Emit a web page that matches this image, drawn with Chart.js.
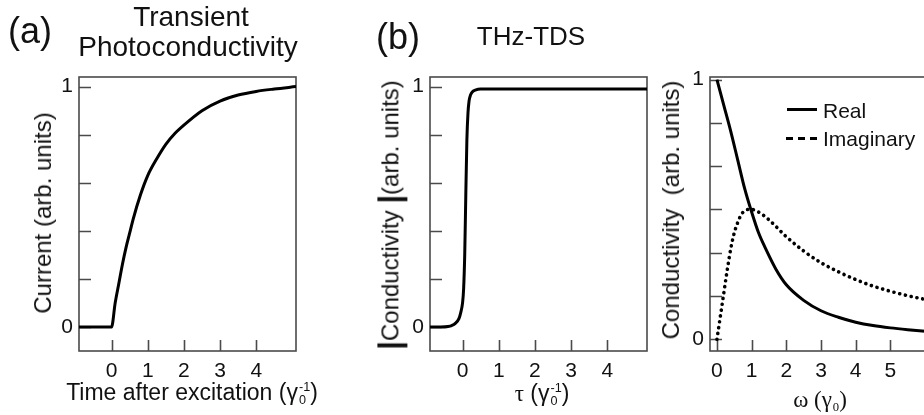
<!DOCTYPE html>
<html>
<head>
<meta charset="utf-8">
<script src="https://cdn.jsdelivr.net/npm/chart.js@4.4.1/dist/chart.umd.min.js"></script>
<style>
  body { margin: 0; width: 924px; height: 415px; overflow: hidden; background: #fff; position: relative;
         font-family: "Liberation Sans", Arial, sans-serif; color: #111; }
  canvas { position: absolute; top: 0; }
  .t { position: absolute; white-space: nowrap; line-height: 1; transform: translate(-50%, -50%); }
  .rot { transform: translate(-50%, -50%) rotate(-90deg); }
  .serif { font-family: "Liberation Serif", "Times New Roman", serif; }
  .ss { display: inline-block; vertical-align: -0.35em; font-size: 0.55em; line-height: 1.05; text-align: left; margin-left: 1px; }
  .ss span { display: block; }
  .bar { font-weight: bold; font-size: 1.3em; vertical-align: -0.08em; }
  .key { position: absolute; height: 3px; }
</style>
</head>
<body>

<canvas id="chartA" width="320" height="415" style="left:0"></canvas>
<canvas id="chartB" width="340" height="415" style="left:320px"></canvas>
<canvas id="chartC" width="300" height="415" style="left:640px"></canvas>

<!-- panel headings -->
<div class="t" style="left:30px;top:31px;font-size:36px">(a)</div>
<div class="t" style="left:191px;top:17px;font-size:28px">Transient</div>
<div class="t" style="left:188px;top:47px;font-size:28px">Photoconductivity</div>
<div class="t" style="left:398px;top:37px;font-size:36px">(b)</div>
<div class="t" style="left:531px;top:36px;font-size:26px">THz-TDS</div>

<!-- axis titles -->
<div class="t rot" style="left:43px;top:213px;font-size:24px">Current (arb. units)</div>
<div class="t" style="left:192px;top:394px;font-size:23px">Time after excitation (γ<span class="ss"><span>-1</span><span>0</span></span>)</div>

<div class="t rot" style="left:390px;top:215px;font-size:24px"><span class="bar">|</span>Conductivity <span class="bar">|</span>(arb. units)</div>
<div class="t" style="left:542px;top:395px;font-size:23px"><span class="serif">τ</span> (γ<span class="ss"><span>-1</span><span>0</span></span>)</div>

<div class="t rot" style="left:671px;top:210px;font-size:24px">Conductivity&nbsp;&nbsp;(arb. units)</div>
<div class="t serif" style="left:820px;top:401px;font-size:23px">ω (γ<span class="ss"><span>&nbsp;</span><span>0</span></span>)</div>

<!-- legend for panel (c) -->
<div class="key" style="left:787px;top:108px;width:30px;background:#000"></div>
<div class="key" style="left:786px;top:137px;width:31px;background:repeating-linear-gradient(to right,#000 0 7px,transparent 7px 12px)"></div>
<div class="t" style="left:823px;top:110px;font-size:21px;transform:translate(0,-50%)">Real</div>
<div class="t" style="left:823px;top:138px;font-size:21px;transform:translate(0,-50%)">Imaginary</div>

<script>
// (a) photocurrent after excitation, time in units of 1/gamma0
const timeA = [-0.9, 0, 0.1, 0.2, 0.3, 0.4, 0.5, 0.6, 0.8, 1.0, 1.25, 1.5, 1.75, 2.0, 2.5, 3.0, 3.5, 4.0, 4.5, 5.1];
const currentA = [0, 0, 0.10, 0.18, 0.26, 0.33, 0.39, 0.45, 0.55, 0.63, 0.70, 0.76, 0.805, 0.84, 0.90, 0.94, 0.965, 0.98, 0.99, 1.0];

// (b) |conductivity| vs pump-probe delay tau
const tauB = [-0.9, -0.6, -0.4, -0.3, -0.2, -0.1, -0.05, 0, 0.03, 0.06, 0.09, 0.12, 0.15, 0.18, 0.22, 0.27, 0.35, 0.5, 0.7, 1.0, 5.1];
const condB = [0, 0, 0.002, 0.006, 0.015, 0.035, 0.06, 0.10, 0.16, 0.30, 0.55, 0.78, 0.89, 0.94, 0.965, 0.978, 0.985, 0.99, 0.99, 0.99, 0.99];

// (c) real and imaginary conductivity vs frequency omega
const omegaReal = [0, 0.2, 0.4, 0.6, 0.8, 1.0, 1.2, 1.4, 1.7, 2.0, 2.5, 3.0, 3.5, 4.0, 4.5, 5.0, 5.5, 6.0, 6.2];
const realC = [1.0, 0.90, 0.80, 0.69, 0.58, 0.49, 0.41, 0.35, 0.27, 0.21, 0.15, 0.11, 0.085, 0.066, 0.053, 0.044, 0.037, 0.031, 0.029];
const omegaImag = [0, 0.1, 0.2, 0.3, 0.4, 0.5, 0.6, 0.7, 0.8, 0.9, 1.0, 1.2, 1.5, 2.0, 2.5, 3.0, 3.5, 4.0, 4.5, 5.0, 5.5, 6.0, 6.2];
const imagC = [0, 0.09, 0.18, 0.27, 0.35, 0.41, 0.45, 0.48, 0.495, 0.5, 0.5, 0.49, 0.46, 0.395, 0.34, 0.295, 0.26, 0.23, 0.205, 0.185, 0.168, 0.154, 0.15];

// tick positions
const timeTicks = [0, 1, 2, 3, 4];
const omegaTicks = [0, 1, 2, 3, 4, 5];
const fifthTicks = [0, 0.2, 0.4, 0.6, 0.8, 1];
const sixthTicks = [0, 1/6, 2/6, 3/6, 4/6, 5/6, 1];

const FONT = '"Liberation Sans", Arial, sans-serif';

function pts(xs, ys) {
    return xs.map((v, i) => ({x: v, y: ys[i]}));
}

// box around the plot area plus short ticks pointing inward
const frameTicks = {
    id: 'frameTicks',
    beforeDatasetsDraw(chart) {
        const {ctx, chartArea: a, scales: {x, y}} = chart;
        ctx.save();
        ctx.strokeStyle = '#4a4a4a';
        ctx.lineWidth = 1.6;
        ctx.strokeRect(a.left, a.top, a.right - a.left, a.bottom - a.top);
        ctx.beginPath();
        x.ticks.forEach(t => {
            const px = Math.round(x.getPixelForValue(t.value)) + 0.5;
            ctx.moveTo(px, a.bottom);
            ctx.lineTo(px, a.bottom - 11);
        });
        y.ticks.forEach(t => {
            const py = Math.round(y.getPixelForValue(t.value)) + 0.5;
            ctx.moveTo(a.left, py);
            ctx.lineTo(a.left + 12, py);
        });
        ctx.stroke();
        ctx.restore();
    }
};

function makePanel(id, cfg) {
    return new Chart(document.getElementById(id), {
        type: 'line',
        data: {datasets: cfg.datasets},
        options: {
            responsive: false,
            animation: false,
            devicePixelRatio: 1,
            layout: {padding: {top: 77, right: cfg.padRight, left: 0, bottom: 0}},
            plugins: {legend: {display: false}, tooltip: {enabled: false}},
            elements: {point: {radius: 0}},
            scales: {
                x: {
                    type: 'linear',
                    min: cfg.xMin,
                    max: cfg.xMax,
                    afterBuildTicks: s => { s.ticks = cfg.xTicks.map(v => ({value: v})); },
                    afterFit: s => { s.height = 64; },
                    grid: {display: false, drawTicks: false},
                    border: {display: false},
                    ticks: {color: '#111', font: {family: FONT, size: 21}, padding: 8, maxRotation: 0, autoSkip: false,
                            callback: v => String(v)}
                },
                y: {
                    type: 'linear',
                    min: cfg.yMin,
                    max: cfg.yMax,
                    afterBuildTicks: s => { s.ticks = cfg.yTicks.map(v => ({value: v})); },
                    afterFit: s => { s.width = cfg.yWidth; },
                    grid: {display: false, drawTicks: false},
                    border: {display: false},
                    ticks: {color: '#111', font: {family: FONT, size: 21}, padding: 6, autoSkip: false,
                            callback: v => (v === 0 || v === 1) ? String(v) : ''}
                }
            }
        },
        plugins: [frameTicks]
    });
}

const solid = {borderColor: '#000', borderWidth: 3, fill: false, cubicInterpolationMode: 'monotone'};

makePanel('chartA', {
    datasets: [Object.assign({data: pts(timeA, currentA)}, solid)],
    xMin: -0.9, xMax: 5.1, yMin: -0.1, yMax: 1.04,
    xTicks: timeTicks, yTicks: fifthTicks, yWidth: 79, padRight: 24
});

makePanel('chartB', {
    datasets: [Object.assign({data: pts(tauB, condB)}, solid)],
    xMin: -0.9, xMax: 5.1, yMin: -0.1, yMax: 1.04,
    xTicks: timeTicks, yTicks: fifthTicks, yWidth: 110, padRight: 13
});

makePanel('chartC', {
    datasets: [
        Object.assign({data: pts(omegaReal, realC), label: 'Real'}, solid),
        {data: pts(omegaImag, imagC), label: 'Imaginary', borderColor: '#000', borderWidth: 3.6, fill: false,
         borderDash: [0.1, 5.8], borderCapStyle: 'round', cubicInterpolationMode: 'monotone'}
    ],
    xMin: -0.2, xMax: 6.2, yMin: -0.045, yMax: 1.01,
    xTicks: omegaTicks, yTicks: sixthTicks, yWidth: 70, padRight: 8
});
</script>
</body>
</html>
